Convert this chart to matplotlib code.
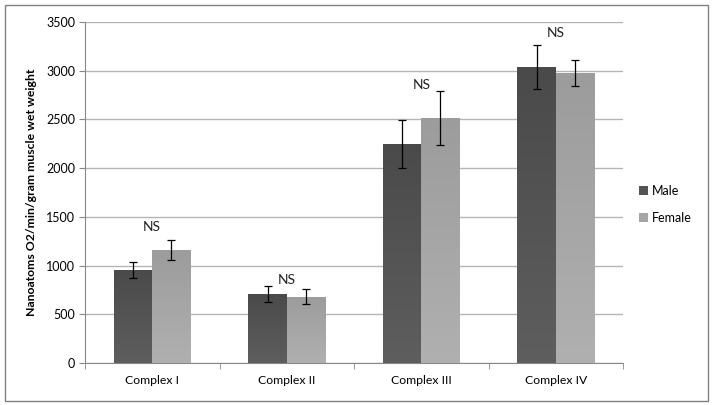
import matplotlib
matplotlib.use("Agg")
import matplotlib.pyplot as plt
import numpy as np
from matplotlib.patches import Rectangle

categories = ["Complex I", "Complex II", "Complex III", "Complex IV"]
male = [955, 711, 2248, 3036]
female = [1162, 681, 2512, 2974]
male_err = [85, 80, 250, 225]
female_err = [105, 75, 275, 135]
sig_labels = ["NS", "NS", "NS", "NS"]
sig_y = [1396, 852, 2858, 3390]
yticks = [0, 500, 1000, 1500, 2000, 2500, 3000, 3500]

plt.rcParams['font.family'] = ['Lato', 'DejaVu Sans']

fig = plt.figure(figsize=(7.14, 4.05), dpi=100)
ax = fig.add_axes([85/714, 42/405, 538/714, 341/405])

x = np.arange(len(categories))
w = 0.286
male_col = "#555555"
female_col = "#a5a5a5"

bm = ax.bar(x - w/2, male, w, color=male_col, zorder=3)
bf = ax.bar(x + w/2, female, w, color=female_col, zorder=3)

# vertical gradient overlay
grad = np.linspace(0, 1, 256).reshape(-1, 1)
for bars, c0, c1 in [(bm, "#5e5e5e", "#4a4a4a"), (bf, "#b0b0b0", "#9c9c9c")]:
    cmap = matplotlib.colors.LinearSegmentedColormap.from_list("g", [c0, c1])
    for b in bars:
        x0, y0 = b.get_x(), b.get_y()
        im = ax.imshow(grad, cmap=cmap, aspect='auto', origin='lower',
                       extent=[x0, x0 + b.get_width(), y0, y0 + b.get_height()], zorder=3.5)
        im.set_clip_path(b)

ax.errorbar(x - w/2, male, yerr=male_err, fmt='none', ecolor='black', elinewidth=0.9, capsize=3, capthick=0.9, zorder=4)
ax.errorbar(x + w/2, female, yerr=female_err, fmt='none', ecolor='black', elinewidth=0.9, capsize=3, capthick=0.9, zorder=4)

for i, lab in enumerate(sig_labels):
    ax.text(x[i], sig_y[i], lab, ha='center', va='center', fontsize=10, color='#222222')

ax.set_xlim(-0.5, len(categories) - 0.5)
ax.set_ylim(0, 3500)
ax.set_yticks(yticks)
ax.set_yticklabels([str(t) for t in yticks], fontsize=9)
ax.set_xticks(x)
ax.set_xticklabels(categories, fontsize=8.8)
ax.tick_params(axis='x', length=0, pad=9)
ax.set_xticks(np.arange(-0.5, len(categories)), minor=True)
ax.tick_params(axis='x', which='minor', length=4, color='#888888')
ax.tick_params(axis='y', length=4, color='#888888', pad=3)
ax.yaxis.grid(True, color='#b5b5b5', linewidth=1, zorder=0)
ax.set_axisbelow(True)
for s in ['top', 'right']:
    ax.spines[s].set_visible(False)
for s in ['left', 'bottom']:
    ax.spines[s].set_color('#888888')

ax.set_ylabel("Nanoatoms O2/min/gram muscle wet weight", fontsize=8.8, fontweight='bold', labelpad=7)

leg = fig.legend([bm, bf], ["Male", "Female"], loc='upper left', bbox_to_anchor=(634/714, 1 - 180/405),
                 frameon=False, fontsize=9, handlelength=0.7, handleheight=0.7, handletextpad=0.3,
                 labelspacing=1.2, borderaxespad=0)

fig.patches.append(Rectangle((5/714, 4/405), 703/714, 396/405, transform=fig.transFigure,
                             fill=False, edgecolor='#808080', linewidth=1))

fig.savefig("out.png", dpi=100)
